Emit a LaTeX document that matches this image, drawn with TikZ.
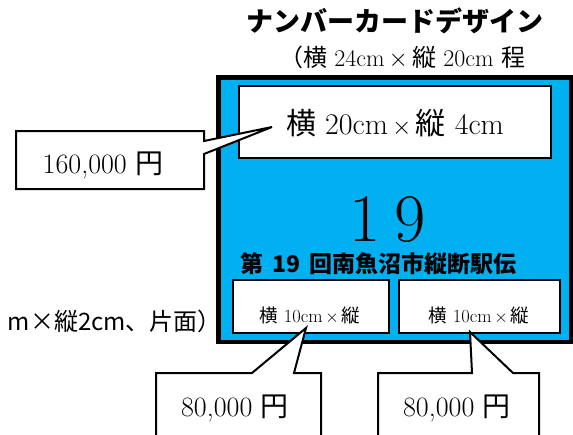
\documentclass[tikz,border=0pt]{standalone}
\usepackage{fontspec}
\newfontfamily\jp{Noto Sans CJK JP}
\definecolor{cardblue}{HTML}{00B0F0}
\begin{document}
\begin{tikzpicture}[x=1pt,y=-1pt,
  box/.style={draw=black, fill=white, line width=2pt, inner sep=0pt},
  callout/.style={draw=black, fill=white, line width=2pt, line join=miter},
  txt/.style={inner sep=0pt, text=black}]
\useasboundingbox (0,0) rectangle (573,434);
\clip (0,0) rectangle (573,434);

% titles
\node[txt, font=\jp\bfseries\fontsize{27}{30}\selectfont] (title) at (395,21) {ナンバーカードデザイン};
\node[txt, font=\fontsize{24}{27}\selectfont] (sub) at (402,57) {{\jp （横} 24cm$\,\times\,${\jp 縦} 20cm {\jp 程}};

% left cut-off text
\node[txt, anchor=east, font=\jp\fontsize{24}{27}\selectfont] (side) at (222,321) {m×縦2cm、片面）};

% card
\draw[line width=4.5pt, fill=cardblue] (218.25,77.25) rectangle (571.5,341.75);

\node[box, minimum width=312pt, minimum height=72pt] (topbox) at (395,122) {};
\node[txt, font=\fontsize{30}{34}\selectfont] (toptxt) at (395,123) {{\jp 横} 20cm$\,\times\,${\jp 縦} 4cm};

\node[txt, font=\fontsize{68}{72}\selectfont] (num) at (387.5,219.5) {1\hspace{14pt}9};
\node[txt, font=\jp\bfseries\fontsize{23}{26}\selectfont] (event) at (378.5,264) {第\hspace{9pt}19\hspace{9pt}回南魚沼市縦断駅伝};

\node[box, minimum width=156pt, minimum height=53pt] (lbox) at (311,306.5) {};
\node[box, minimum width=161pt, minimum height=53pt] (rbox) at (479.5,306.5) {};
\node[txt, font=\fontsize{18.5}{21}\selectfont] (ltxt) at (310,315) {{\jp 横} 10cm$\,\times\,${\jp 縦}};
\node[txt, font=\fontsize{18.5}{21}\selectfont] (rtxt) at (479,315) {{\jp 横} 10cm$\,\times\,${\jp 縦}};

% callouts
\coordinate (tipA) at (272,127);
\coordinate (tipB) at (306,328);
\coordinate (tipC) at (470,332);
\draw[callout] (16,131) -- (204,131) -- (204,141) -- (tipA) -- (204,154) -- (204,189) -- (16,189) -- cycle;
\draw[callout] (156,373) -- (252,373) -- (tipB) -- (294,373) -- (321,373) -- (321,440) -- (156,440) -- cycle;
\draw[callout] (378,373) -- (472,373) -- (tipC) -- (513,373) -- (539,373) -- (539,440) -- (378,440) -- cycle;

\node[txt, font=\fontsize{28}{32}\selectfont] (pA) at (103,165) {160,000 {\jp 円}};
\node[txt, font=\fontsize{28}{32}\selectfont] (pB) at (235,408) {80,000 {\jp 円}};
\node[txt, font=\fontsize{28}{32}\selectfont] (pC) at (457,408) {80,000 {\jp 円}};
\end{tikzpicture}
\end{document}
